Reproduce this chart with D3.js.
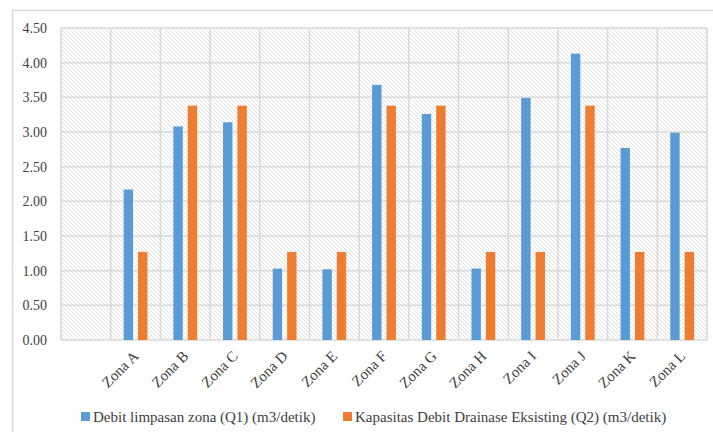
<!DOCTYPE html>
<html>
<head>
<meta charset="utf-8">
<script src="https://cdn.jsdelivr.net/npm/d3@7"></script>
<style>
  body { margin: 0; background: #fff; }
</style>
</head>
<body>
<div id="chart"></div>
<script>
// data (first slot is left empty in the original)
const categories = ['', 'Zona A', 'Zona B', 'Zona C', 'Zona D', 'Zona E', 'Zona F',
  'Zona G', 'Zona H', 'Zona I', 'Zona J', 'Zona K', 'Zona L'];
const q1 = [null, 2.17, 3.08, 3.14, 1.03, 1.02, 3.68, 3.26, 1.03, 3.49, 4.13, 2.77, 2.99];
const q2 = [null, 1.27, 3.38, 3.38, 1.27, 1.27, 3.38, 3.38, 1.27, 1.27, 3.38, 1.27, 1.27];
const seriesNames = ['Debit limpasan zona (Q1) (m3/detik)', 'Kapasitas Debit Drainase Eksisting (Q2) (m3/detik)'];
const yTicks = [0, 0.5, 1, 1.5, 2, 2.5, 3, 3.5, 4, 4.5];

const W = 713, H = 432;
const margin = { top: 28, right: 6, bottom: 92, left: 61 };
const colors = ['#5b9bd5', '#ed7d31'];
const FONT = '"Liberation Serif", "DejaVu Serif", serif';

const svg = d3.select('#chart').append('svg')
  .attr('width', W).attr('height', H)
  .attr('font-family', FONT);

// hatch pattern for the plot area
const defs = svg.append('defs');
const pat = defs.append('pattern')
  .attr('id', 'hatch')
  .attr('patternUnits', 'userSpaceOnUse')
  .attr('width', 4).attr('height', 4);
pat.append('rect').attr('width', 4).attr('height', 4).attr('fill', '#fff');
pat.append('path')
  .attr('d', 'M-1,-1 L5,5 M-1,3 L1,5 M3,-1 L5,1')
  .attr('stroke', '#dcdcdc').attr('stroke-width', 0.9);

// outer chart border
svg.append('rect')
  .attr('x', 12.5).attr('y', 10.5)
  .attr('width', W).attr('height', H)
  .attr('fill', '#fff').attr('stroke', '#d9d9d9').attr('stroke-width', 1.5);

const x = d3.scaleBand().domain(d3.range(categories.length))
  .range([margin.left, W - margin.right]);
const y = d3.scaleLinear().domain([0, 4.5]).range([H - margin.bottom, margin.top]);

const g = svg.append('g');

g.append('rect')
  .attr('x', x.range()[0]).attr('y', y(4.5))
  .attr('width', x.range()[1] - x.range()[0])
  .attr('height', y(0) - y(4.5))
  .attr('fill', 'url(#hatch)');

// horizontal gridlines
g.selectAll('.hgrid').data(yTicks).enter().append('line')
  .attr('x1', x.range()[0]).attr('x2', x.range()[1])
  .attr('y1', d => y(d)).attr('y2', d => y(d))
  .attr('stroke', '#d9d9d9').attr('stroke-width', 1.5);

// vertical gridlines
const vLines = d3.range(categories.length + 1).map(i => i < categories.length ? x(i) : x.range()[1]);
g.selectAll('.vgrid').data(vLines).enter().append('line')
  .attr('x1', d => d).attr('x2', d => d)
  .attr('y1', y(4.5)).attr('y2', y(0))
  .attr('stroke', '#d9d9d9').attr('stroke-width', 1.5);

// bars
const barW = 9.4, innerGap = 5;
[q1, q2].forEach((vals, s) => {
  g.append('g').selectAll('rect')
    .data(vals.map((v, i) => ({ v, i })).filter(d => d.v != null))
    .enter().append('rect')
    .attr('x', d => x(d.i) + x.bandwidth() / 2 + (s === 0 ? -barW - innerGap / 2 : innerGap / 2))
    .attr('y', d => y(d.v))
    .attr('width', barW)
    .attr('height', d => y(0) - y(d.v))
    .attr('fill', colors[s]);
});

// y axis labels
g.selectAll('.ylab').data(yTicks).enter().append('text')
  .attr('x', 47).attr('y', d => y(d))
  .attr('dy', '0.35em')
  .attr('text-anchor', 'end')
  .attr('font-size', '14px')
  .attr('fill', '#404040')
  .text(d => d3.format('.2f')(d));

// x axis labels, rotated
g.selectAll('.xlab').data(categories).enter().append('text')
  .attr('text-anchor', 'end')
  .attr('font-size', '15px')
  .attr('fill', '#404040')
  .attr('transform', (d, i) => `translate(${x(i) + x.bandwidth() / 2 + 4},${y(0) + 17}) rotate(-45)`)
  .text(d => d);

// legend
const legendItems = [{ x: 81 }, { x: 343 }];
legendItems.forEach((it, s) => {
  svg.append('rect')
    .attr('x', it.x).attr('y', 412).attr('width', 9).attr('height', 9)
    .attr('fill', colors[s]);
  svg.append('text')
    .attr('x', it.x + 12).attr('y', 417)
    .attr('dy', '0.35em')
    .attr('font-size', '15px')
    .attr('fill', '#404040')
    .text(seriesNames[s]);
});
</script>
</body>
</html>
